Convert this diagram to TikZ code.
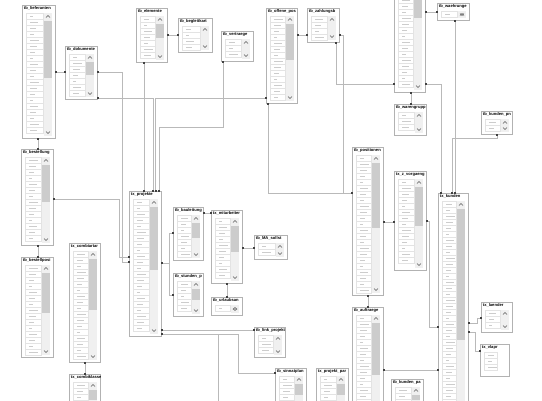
\documentclass[tikz,border=0pt]{standalone}
\usepackage{fontspec}
\setmainfont{Liberation Sans}
\usetikzlibrary{arrows.meta,fit}

\tikzset{
  tblframe/.style={draw=gray!60, line width=1.1pt, fill=white},
  tbltitle/.style={anchor=north west, inner sep=0.9pt, font=\fontsize{4.1}{4.2}\selectfont\bfseries},
  rowbox/.style={draw=gray!22, line width=0.25pt, fill=white},
  fieldtxt/.style={draw=gray!40, line width=0.55pt},
  scrolltrack/.style={fill=gray!12},
  scrollthumb/.style={fill=gray!40},
  chev/.style={draw=gray!70!black, line width=0.45pt},
  rel/.style={draw=gray!55, line width=0.6pt,
    {Square[length=1.4pt,width=1.4pt,color=black!75]}-{Square[length=1.4pt,width=1.4pt,color=black!75]}},
}

% one table of the diagram: name, title, x1, y1, x2, y2, end of scroll thumb
\newcommand\dbtable[7]{%
  \path (#3,#4) coordinate (#1-nw) (#5,#6) coordinate (#1-se);
  \node[fit=(#1-nw)(#1-se), inner sep=0pt] (#1) {};
  \draw[tblframe] (#1.north west) rectangle (#1.south east);
  \begin{scope}
    \clip (#1.north west) rectangle (#1.south east);
    \pgfmathtruncatemacro\nrows{floor((#6-#4-9)/6)}
    \foreach \i in {1,...,\nrows}{%
      \pgfmathsetmacro\ry{#4+7+(\i-1)*6}
      \pgfmathsetmacro\rl{3+mod(\i*5+#3,7)}
      \draw[rowbox] (#3+3,\ry) rectangle (#5-12,\ry+6);
      \draw[fieldtxt] (#3+7,\ry+3) -- ++(\rl,0);
    }
    \ifdim #7pt<0pt\else
      \fill[scrolltrack] (#5-11,#4+7) rectangle (#5-3,#6-2);
      \ifdim #7pt>0pt \fill[scrollthumb] (#5-11,#4+15) rectangle (#5-3,#7);\fi
      \draw[chev] (#5-9,#4+11.5) -- (#5-7,#4+9.5) -- (#5-5,#4+11.5);
      \draw[chev] (#5-9,#6-6.5) -- (#5-7,#6-4.5) -- (#5-5,#6-6.5);
    \fi
    \node[tbltitle] (#1-title) at (#1.north west) {#2};
  \end{scope}
}

\begin{document}
\begin{tikzpicture}[x=1pt,y=-1pt]
\useasboundingbox (0,0) rectangle (542,400);
\clip (0,0) rectangle (542,400);
\fill[white] (0,0) rectangle (542,400);

% tables
\dbtable{lief}{tb\_lieferanten}{23}{6}{55}{138}{78}
\dbtable{dok}{tb\_dokumente}{66}{47}{97}{99}{75}
\dbtable{elem}{tb\_elemente}{137}{9}{167}{62}{38}
\dbtable{begl}{tb\_begleitkart}{179}{19}{212}{52}{0}
\dbtable{vert}{tb\_vertraege}{222}{32}{253}{61}{0}
\dbtable{offpos}{tb\_offene\_pos}{267}{9}{297}{103}{60}
\dbtable{zahl}{tb\_zahlungsb}{308}{9}{339}{42}{0}
\dbtable{kasse}{}{395}{-40}{425}{92}{18}
\dbtable{waehr}{tb\_waehrunge}{438}{4}{469}{20}{0}
\dbtable{wareng}{tb\_warengrupp}{395}{105}{426}{135}{0}
\dbtable{kdpn}{tb\_kunden\_pn}{482}{112}{512}{134}{0}
\dbtable{best}{tb\_bestellung}{22}{150}{53}{245}{202}
\dbtable{bpos}{tb\_bestellposi}{22}{258}{53}{357}{313}
\dbtable{combi}{tx\_combiartar}{70}{244}{100}{362}{310}
\dbtable{combik}{tx\_combiklasse}{70}{375}{100}{420}{400}
\dbtable{proj}{tx\_projekte}{130}{192}{161}{336}{270}
\dbtable{baul}{tb\_bauleitung}{174}{208}{203}{260}{238}
\dbtable{mitar}{tx\_mitarbeiter}{212}{211}{242}{283}{252}
\dbtable{masoll}{tb\_MA\_sollst}{255}{236}{287}{259}{0}
\dbtable{stund}{tb\_stunden\_p}{174}{274}{203}{316}{300}
\dbtable{url}{tb\_urlaubsan}{212}{298}{242}{315}{0}
\dbtable{link}{tb\_link\_projekt}{255}{328}{285}{357}{0}
\dbtable{posi}{tb\_positionen}{353}{148}{383}{295}{228}
\dbtable{zvorg}{tx\_z\_vorgaeng}{395}{172}{426}{270}{226}
\dbtable{kund}{tx\_kunden}{439}{194}{468}{430}{340}
\dbtable{auftr}{tb\_auftraege}{353}{308}{383}{430}{375}
\dbtable{sinn}{tb\_sinnatplan}{276}{369}{306}{430}{395}
\dbtable{ppar}{tx\_projekt\_par}{317}{369}{348}{430}{395}
\dbtable{kdpa}{tb\_kunden\_pa}{392}{380}{423}{430}{400}
\dbtable{laender}{tx\_laender}{482}{303}{512}{332}{0}
\dbtable{vlapr}{tx\_vlapr}{481}{345}{509}{376}{-1}

\coordinate (projoff) at (218,420);

% relations
\draw[rel] (lief.east |- 0,72) -- (dok.west |- 0,72);
\draw[rel] (dok.east |- 0,72) -- (122,72) -- (122,262) -- (proj.west |- 0,262);
\draw[rel] (best.east |- 0,199) -- (119,199) -- (119,257) -- (proj.west |- 0,257);
\draw[rel] (dok.east |- 0,98) -- (153,98) -- (proj.north -| 153,0);
\draw[rel] (offpos.west |- 0,98) -- (155.5,98) -- (proj.north -| 155.5,0);
\draw[rel] (elem.south -| 144,0) -- (proj.north -| 144,0);
\draw[rel] (vert.south -| 223,0) -- (223,127) -- (159,127) -- (proj.north -| 159,0);
\draw[rel] (elem.east |- 0,35) -- (begl.west |- 0,35);
\draw[rel] (zahl.west |- 0,35) -- (offpos.east |- 0,35);
\draw[rel] (zahl.east |- 0,35) -- (343,35) -- (343,193) -- (posi.west |- 0,193);
\draw[rel] (zahl.south -| 336,0) -- (336,84) -- (kasse.west |- 0,84);
\draw[rel] (offpos.south -| 268,0) -- (268,193) -- (posi.west |- 0,193);
\draw[rel] (kasse.east |- 0,12) -- (waehr.west |- 0,12);
\draw[rel] (kasse.south -| 411,0) -- (wareng.north -| 411,0);
\draw[rel] (kasse.east |- 0,84) -- (441,84) -- (kund.north -| 441,0);
\draw[rel] (waehr.south -| 455,0) -- (kund.north -| 455,0);
\draw[rel] (kdpn.south -| 497,0) -- (497,138) -- (452,138) -- (kund.north -| 452,0);
\draw[rel] (lief.south -| 38,0) -- (best.north -| 38,0);
\draw[rel] (best.south -| 38,0) -- (bpos.north -| 38,0);
\draw[rel] (combi.south -| 85,0) -- (combik.north -| 85,0);
\draw[rel] (proj.east |- 0,263) -- (169,263) -- (169,233) -- (baul.west |- 0,233);
\draw[rel] (proj.east |- 0,263) -- (169,263) -- (169,295) -- (stund.west |- 0,295);
\draw[rel] (baul.east |- 0,213) -- (mitar.west |- 0,213);
\draw[rel] (mitar.east |- 0,248) -- (masoll.west |- 0,248);
\draw[rel] (mitar.south -| 227,0) -- (url.north -| 227,0);
\draw[rel] (proj.east |- 0,330) -- (link.west |- 0,330);
\draw[rel] (proj.east |- 0,334) -- (238,334) -- (238,373) -- (sinn.west |- 0,373);
\draw[rel] (proj.east |- 0,334) -- (218,334) -- (projoff);
\draw[rel] (posi.east |- 0,222) -- (zvorg.west |- 0,222);
\draw[rel] (posi.south -| 368,0) -- (auftr.north -| 368,0);
\draw[rel] (zvorg.east |- 0,221) -- (429,221) -- (429,327) -- (kund.west |- 0,327);
\draw[rel] (auftr.east |- 0,370) -- (kund.west |- 0,370);
\draw[rel] (kund.east |- 0,323) -- (477,323) -- (477,318) -- (laender.west |- 0,318);
\draw[rel] (kund.east |- 0,332) -- (475,332) -- (475,351) -- (vlapr.west |- 0,351);
\end{tikzpicture}
\end{document}
